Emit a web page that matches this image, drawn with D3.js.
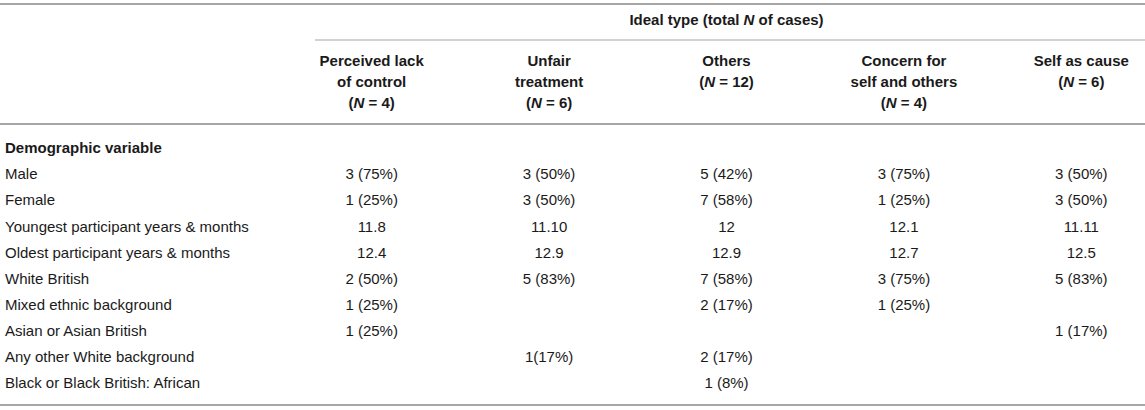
<!DOCTYPE html>
<html><head><meta charset="utf-8">
<script src="https://cdn.jsdelivr.net/npm/d3@7/dist/d3.min.js"></script>
<style>
html,body{margin:0;padding:0;background:#fff;}
svg{display:block;font-family:"Liberation Sans",Arial,Helvetica,sans-serif;}
</style></head>
<body><svg id="chart" width="1145" height="410"></svg>
<script>
const spanTitle = ["Ideal type (total ", "N", " of cases)"];
const categories = ["Perceived lack of control", "Unfair treatment", "Others", "Concern for self and others", "Self as cause"];
const headerWrap = [["Perceived lack", "of control"], ["Unfair", "treatment"], ["Others"], ["Concern for", "self and others"], ["Self as cause"]];
const caseCounts = [4, 6, 12, 4, 6];
const sectionLabel = "Demographic variable";
const rowLabels = ["Male", "Female", "Youngest participant years & months", "Oldest participant years & months",
  "White British", "Mixed ethnic background", "Asian or Asian British", "Any other White background",
  "Black or Black British: African"];
const colPerceived = ["3 (75%)", "1 (25%)", "11.8", "12.4", "2 (50%)", "1 (25%)", "1 (25%)", "", ""];
const colUnfair = ["3 (50%)", "3 (50%)", "11.10", "12.9", "5 (83%)", "", "", "1(17%)", ""];
const colOthers = ["5 (42%)", "7 (58%)", "12", "12.9", "7 (58%)", "2 (17%)", "", "2 (17%)", "1 (8%)"];
const colConcern = ["3 (75%)", "1 (25%)", "12.1", "12.7", "3 (75%)", "1 (25%)", "", "", ""];
const colSelf = ["3 (50%)", "3 (50%)", "11.11", "12.5", "5 (83%)", "", "1 (17%)", "", ""];
const columns = [colPerceived, colUnfair, colOthers, colConcern, colSelf];

const svg = d3.select("#chart");
const W = 1145;
const textColor = "#1a1a1a";
const lineColor = "#a6a6a6";
const fs = 15;

const x = d3.scaleBand().domain(categories).range([283, 1170]);
const cx = c => x(c) + x.bandwidth() / 2;
const y = d3.scalePoint().domain(d3.range(rowLabels.length + 1)).range([148, 148 + 26.1 * rowLabels.length]);
const hy = d3.scalePoint().domain([0, 1, 2]).range([61, 103]);

// rules
svg.append("line").attr("x1", 0).attr("x2", W).attr("y1", 4).attr("y2", 4).attr("stroke", lineColor).attr("stroke-width", 2);
svg.append("line").attr("x1", 315).attr("x2", W).attr("y1", 40).attr("y2", 40).attr("stroke", lineColor).attr("stroke-width", 1.2);
svg.append("line").attr("x1", 0).attr("x2", W).attr("y1", 124).attr("y2", 124).attr("stroke", lineColor).attr("stroke-width", 2);
svg.append("line").attr("x1", 0).attr("x2", W).attr("y1", 405).attr("y2", 405).attr("stroke", lineColor).attr("stroke-width", 2);

// spanning title
const t = svg.append("text").attr("x", cx(categories[2])).attr("y", 20).attr("dy", "0.35em")
  .attr("text-anchor", "middle").attr("font-size", fs).attr("font-weight", "bold").attr("fill", textColor);
spanTitle.forEach((s, i) => t.append("tspan").text(s).attr("font-style", i === 1 ? "italic" : null));

// column headers
categories.forEach((c, i) => {
  const lines = headerWrap[i];
  lines.forEach((ln, j) => {
    svg.append("text").attr("x", cx(c)).attr("y", hy(j)).attr("dy", "0.35em")
      .attr("text-anchor", "middle").attr("font-size", fs).attr("font-weight", "bold").attr("fill", textColor).text(ln);
  });
  const nt = svg.append("text").attr("x", cx(c)).attr("y", hy(lines.length)).attr("dy", "0.35em")
    .attr("text-anchor", "middle").attr("font-size", fs).attr("font-weight", "bold").attr("fill", textColor);
  nt.append("tspan").text("(");
  nt.append("tspan").attr("font-style", "italic").text("N");
  nt.append("tspan").text(" = " + caseCounts[i] + ")");
});

// section label
svg.append("text").attr("x", 5).attr("y", y(0)).attr("dy", "0.35em").attr("font-size", fs)
  .attr("font-weight", "bold").attr("fill", textColor).text(sectionLabel);

// row labels
svg.selectAll("text.rowlab").data(rowLabels).join("text").attr("class", "rowlab")
  .attr("x", 5).attr("y", (d, i) => y(i + 1)).attr("dy", "0.35em").attr("font-size", fs)
  .attr("fill", textColor).text(d => d);

// cells
columns.forEach((col, ci) => {
  svg.selectAll("text.c" + ci).data(col).join("text").attr("class", "c" + ci)
    .attr("x", cx(categories[ci])).attr("y", (d, i) => y(i + 1)).attr("dy", "0.35em")
    .attr("text-anchor", "middle").attr("font-size", fs).attr("fill", textColor).text(d => d);
});
</script></body></html>
